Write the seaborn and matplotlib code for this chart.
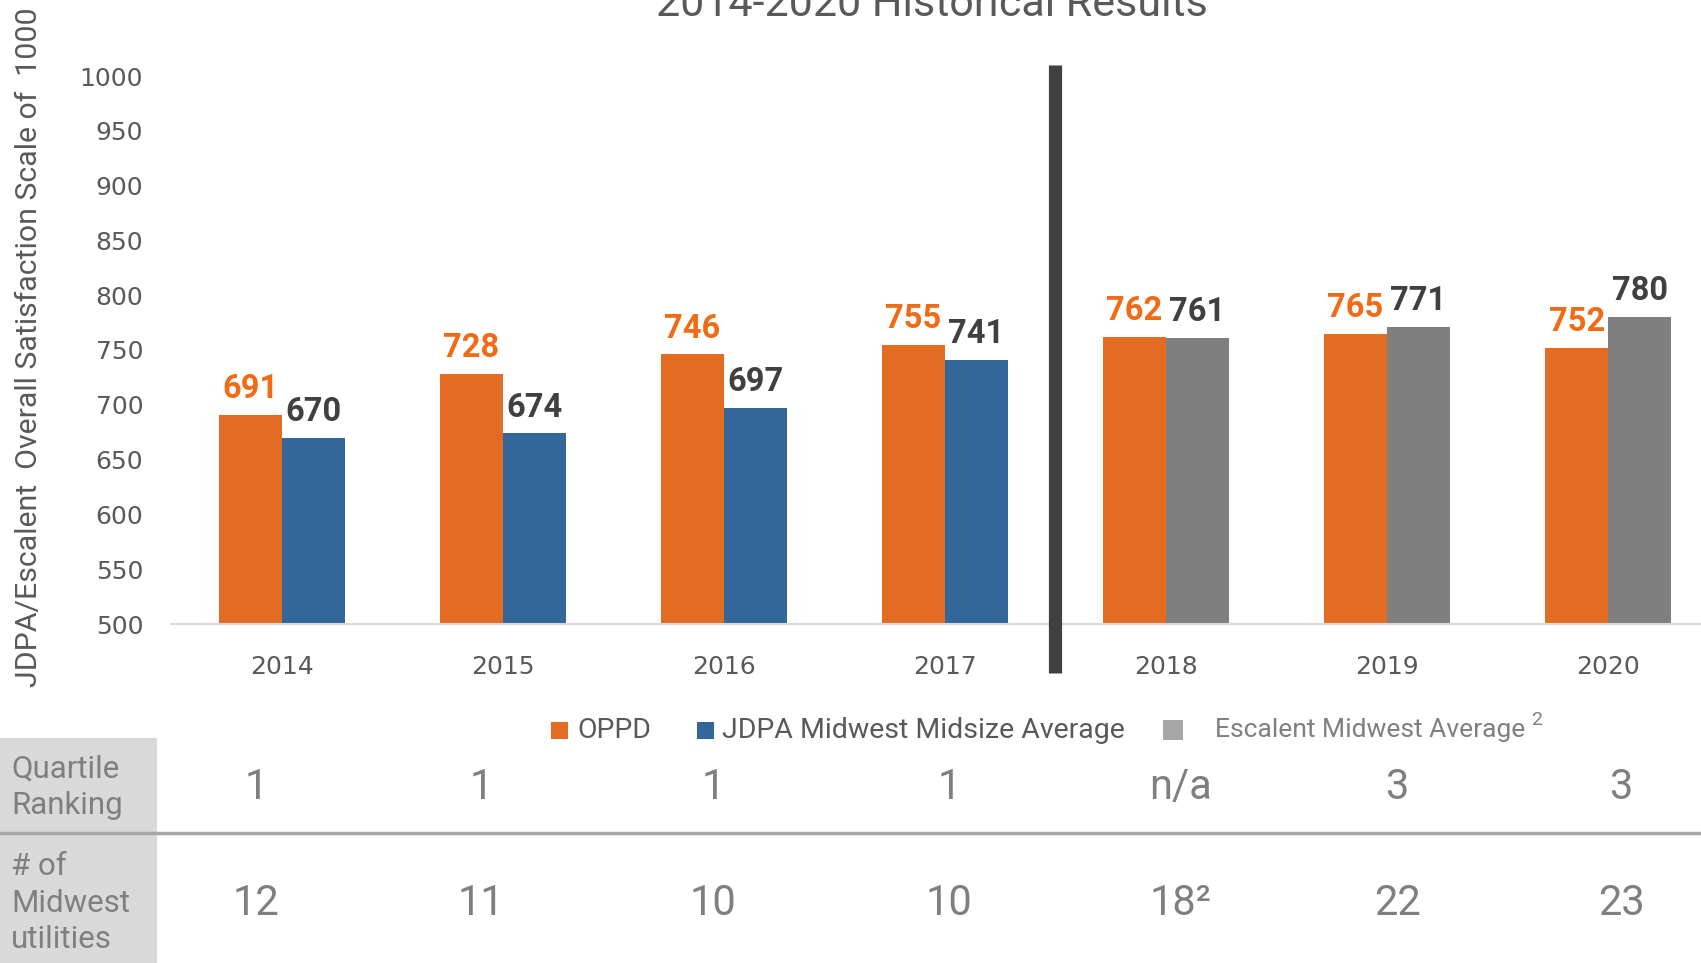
# Customer satisfaction chart: OPPD vs. Midwest benchmarks, 2014-2020
import pandas as pd
import seaborn as sns
import matplotlib
matplotlib.use("Agg")
import matplotlib.pyplot as plt
from matplotlib.patches import Rectangle
from matplotlib.lines import Line2D

# ============================================================================
# DATA
# ============================================================================
years = ['2014', '2015', '2016', '2017', '2018', '2019', '2020']
oppd_scores = [691, 728, 746, 755, 762, 765, 752]
benchmark_scores = [670, 674, 697, 741, 761, 771, 780]
benchmark_source = ['JDPA', 'JDPA', 'JDPA', 'JDPA', 'Escalent', 'Escalent', 'Escalent']
quartile_ranking = ['1', '1', '1', '1', 'n/a', '3', '3']
midwest_utilities = ['12', '11', '10', '10', '18²', '22', '23']

y_ticks = list(range(500, 1001, 50))

# ============================================================================
# STYLE
# ============================================================================
ORANGE = '#E46C22'
ORANGE_TXT = '#F26A14'
BLUE = '#336699'
GRAY = '#7F7F7F'
LIGHT_GRAY = '#A6A6A6'
TEXT = '#595959'
DARK = '#404040'
NARROW = ['Roboto', 'DejaVu Sans']

W, H = 1701, 963

sns.set_theme(style='white')
plt.rcParams['font.family'] = ['DejaVu Sans']

df = pd.DataFrame({
    'Year': years * 2,
    'Score': oppd_scores + benchmark_scores,
    'Series': ['OPPD'] * len(years) + ['Benchmark'] * len(years),
})

fig = plt.figure(figsize=(W / 100, H / 100), dpi=100)
ax = fig.add_axes([171 / W, 1 - 624 / H, (W - 171) / W, (624 - 76) / H])

sns.barplot(data=df, x='Year', y='Score', hue='Series', order=years,
            hue_order=['OPPD', 'Benchmark'], palette=[ORANGE, BLUE],
            width=0.57, saturation=1, errorbar=None, linewidth=0,
            legend=False, ax=ax)

# Escalent years are grey instead of blue
bench_bars = sorted(ax.containers[1], key=lambda p: p.get_x())
for bar, src in zip(bench_bars, benchmark_source):
    if src == 'Escalent':
        bar.set_facecolor(GRAY)

# Value labels
ax.bar_label(ax.containers[0], fmt='{:.0f}', padding=7, color=ORANGE_TXT,
             fontsize=23.5, fontweight='bold', fontfamily=NARROW)
ax.bar_label(ax.containers[1], fmt='{:.0f}', padding=7, color=DARK,
             fontsize=23.5, fontweight='bold', fontfamily=NARROW)

# Separator between JDPA and Escalent eras
ax.plot([3.5, 3.5], [455, 1010], color=DARK, lw=9.5, clip_on=False,
        solid_capstyle='butt', zorder=5)

ax.set_ylim(500, 1000)
ax.set_xlim(-0.5, 6.42)
ax.set_yticks(y_ticks)
ax.set_xlabel('')
ax.set_ylabel('')
for side in ['left', 'top', 'right']:
    ax.spines[side].set_visible(False)
ax.spines['bottom'].set_color('#D9D9D9')
ax.spines['bottom'].set_linewidth(1.5)
ax.tick_params(axis='both', length=0, labelsize=18, labelcolor=TEXT)
ax.tick_params(axis='x', pad=22)
ax.tick_params(axis='y', pad=20)

# Title and axis label (both run off the top edge like the original)
fig.text(932 / W, 1 - 16 / H, '2014-2020 Historical Results', ha='center',
         va='baseline', fontsize=31, color=TEXT, fontfamily=NARROW)
fig.text(29 / W, 1 - 687 / H, 'JDPA/Escalent  Overall Satisfaction Scale of  1000',
         rotation=90, ha='center', va='bottom', fontsize=21.8, color=TEXT,
         fontfamily=NARROW)

# ============================================================================
# LEGEND (drawn by hand)
# ============================================================================
def legend_item(x_box, size, color, x_text, label, fontsize, txt_color):
    yc = 730
    fig.add_artist(Rectangle((x_box / W, 1 - (yc + size / 2) / H), size / W, size / H,
                             transform=fig.transFigure, color=color, lw=0))
    fig.text(x_text / W, 1 - yc / H, label, ha='left', va='center',
             fontsize=fontsize, color=txt_color, fontfamily=NARROW)

legend_item(551, 17, ORANGE, 577, 'OPPD', 20.5, TEXT)
legend_item(697, 17, BLUE, 722, 'JDPA Midwest Midsize Average', 20.5, TEXT)
legend_item(1163, 20, LIGHT_GRAY, 1215, 'Escalent Midwest Average', 19, GRAY)
fig.text(1531 / W, 1 - 720 / H, '2', ha='left', va='center', fontsize=14,
         color=GRAY, fontfamily=NARROW)

# ============================================================================
# TABLE BELOW THE CHART
# ============================================================================
fig.add_artist(Rectangle((0, 0), 157 / W, (H - 738) / H, transform=fig.transFigure,
                         color='#D9D9D9', lw=0))
fig.add_artist(Line2D([0, 1], [1 - 833 / H] * 2, transform=fig.transFigure,
                      color=LIGHT_GRAY, lw=2.5))

fig.text(11 / W, 1 - 787 / H, 'Quartile\nRanking', ha='left', va='center',
         fontsize=22.5, color=GRAY, fontfamily=NARROW, linespacing=1.32)
fig.text(11 / W, 1 - 903 / H, '# of\nMidwest\nutilities', ha='left', va='center',
         fontsize=22.5, color=GRAY, fontfamily=NARROW, linespacing=1.32)

col_x = [256, 481, 713, 949, 1180, 1397, 1621]
for x, q, n in zip(col_x, quartile_ranking, midwest_utilities):
    fig.text(x / W, 1 - 787 / H, q, ha='center', va='center', fontsize=30,
             color=GRAY, fontfamily=NARROW)
    fig.text(x / W, 1 - 903 / H, n, ha='center', va='center', fontsize=30,
             color=GRAY, fontfamily=NARROW)

plt.savefig('out.png', dpi=100)
